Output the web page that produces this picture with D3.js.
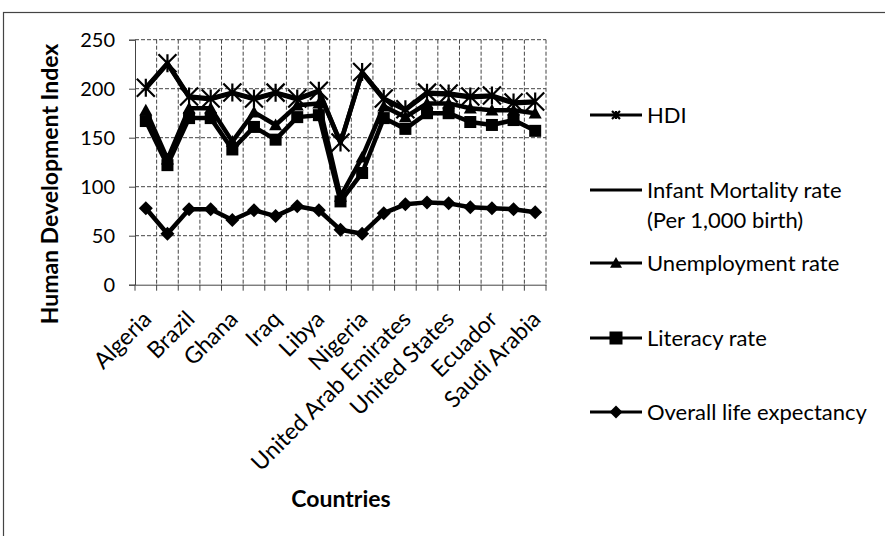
<!DOCTYPE html>
<html>
<head>
<meta charset="utf-8">
<script src="https://cdn.jsdelivr.net/npm/d3@7/dist/d3.min.js"></script>
<style>
  html, body { margin: 0; padding: 0; background: #fff; }
  svg { display: block; }
  text { font-family: Lato, "Open Sans", "Noto Sans", sans-serif; fill: #000; }
</style>
</head>
<body>
<svg id="chart" width="885" height="536"></svg>
<script>
// ---- data (stacked line chart: values per series, stacked bottom to top) ----
const countries = ["Algeria", "Angola", "Brazil", "Egypt", "Ghana", "Indonesia", "Iraq", "Kuwait",
  "Libya", "Mali", "Nigeria", "Qatar", "United Arab Emirates", "United Kingdom", "United States",
  "Venezuela", "Ecuador", "Iran", "Saudi Arabia"];
const lifeExpectancy = [78, 52, 77, 77, 66, 76, 70, 80, 76, 56, 52, 73, 82, 84, 83, 79, 78, 77, 74];
const literacyRate   = [89, 70, 93, 93, 72, 85, 78, 91, 97, 29, 62, 97, 77, 91, 92, 87, 85, 91, 83];
const unemploymentRate = [11, 6, 10, 10, 8, 15, 15, 12, 12, 5, 16, 12, 12, 10, 10, 14, 15, 10, 18];
const infantMortality = [22.3, 97.5, 11.3, 9.3, 49.5, 13.4, 32.4, 6.2, 12.2, 54.7, 86.5, 7.2, 7.2, 10.1, 9.1, 11.2, 14.3, 7.2, 11.2];
const hdiValues = [0.70, 0.50, 0.73, 0.69, 0.54, 0.62, 0.59, 0.80, 0.76, 0.35, 0.47, 0.85, 0.82, 0.89, 0.91, 0.76, 0.72, 0.77, 0.78];
const yTickValues = [0, 50, 100, 150, 200, 250];

const seriesKeys = ["life", "literacy", "unemployment", "infant", "hdi"];
const seriesNames = {
  hdi: "HDI",
  infant: ["Infant Mortality rate", "(Per 1,000 birth)"],
  unemployment: "Unemployment rate",
  literacy: "Literacy rate",
  life: "Overall life expectancy"
};
const markerOf = { hdi: "star", infant: "none", unemployment: "triangle", literacy: "square", life: "diamond" };

const table = countries.map((c, i) => ({
  country: c,
  life: lifeExpectancy[i],
  literacy: literacyRate[i],
  unemployment: unemploymentRate[i],
  infant: infantMortality[i],
  hdi: hdiValues[i]
}));

// ---- layout ----
const svg = d3.select("#chart");
const plot = { left: 135, right: 546, top: 39.7, bottom: 284.7 };

const x = d3.scaleBand().domain(countries).range([plot.left, plot.right]);
const y = d3.scaleLinear().domain([0, 250]).range([plot.bottom, plot.top]);
const cx = c => x(c) + x.bandwidth() / 2;

// outer chart border
svg.append("rect").attr("x", 3.5).attr("y", 12.5).attr("width", 1000).attr("height", 1000)
  .attr("fill", "none").attr("stroke", "#444").attr("stroke-width", 1.2);

// gridlines
const grid = svg.append("g").attr("stroke", "#444").attr("stroke-width", 1).attr("stroke-dasharray", "4,2");
grid.selectAll("line.h").data(yTickValues.filter(v => v > 0)).join("line")
  .attr("x1", plot.left).attr("x2", plot.right)
  .attr("y1", d => y(d)).attr("y2", d => y(d));
const boundaries = countries.map(c => x(c)).concat([x(countries[countries.length - 1]) + x.bandwidth()]);
grid.selectAll("line.v").data(boundaries.slice(1)).join("line")
  .attr("x1", d => d).attr("x2", d => d)
  .attr("y1", plot.top).attr("y2", plot.bottom);

// y axis
const yAxis = svg.append("g").attr("transform", `translate(${plot.left},0)`)
  .call(d3.axisLeft(y).tickValues(yTickValues).tickSize(6).tickPadding(14));
yAxis.select(".domain").attr("stroke", "#444");
yAxis.selectAll(".tick line").attr("stroke", "#444");
yAxis.selectAll(".tick text").style("font-size", "20px").attr("dy", "0.35em");

// x axis
const xAxis = svg.append("g").attr("transform", `translate(0,${plot.bottom})`)
  .call(d3.axisBottom(x).tickSize(0).tickFormat((d, i) => i % 2 === 0 ? d : ""));
xAxis.select(".domain").attr("stroke", "#444");
xAxis.selectAll(".tick text")
  .style("font-size", "23px")
  .attr("text-anchor", "end")
  .attr("dy", null).attr("y", null)
  .attr("transform", "translate(7,36) rotate(-45)");
svg.append("g").attr("stroke", "#444").selectAll("line").data(boundaries).join("line")
  .attr("x1", d => d).attr("x2", d => d)
  .attr("y1", plot.bottom).attr("y2", plot.bottom + 6);

// axis titles
svg.append("text").attr("transform", "translate(52,184) rotate(-90)")
  .attr("text-anchor", "middle").attr("dominant-baseline", "middle")
  .style("font-size", "23px").style("font-weight", "bold").text("Human Development Index");
svg.append("text").attr("x", 341).attr("y", 507).attr("text-anchor", "middle")
  .style("font-size", "23px").style("font-weight", "bold").text("Countries");

// ---- stacked lines ----
const stacked = d3.stack().keys(seriesKeys)(table);

function drawMarker(g, type, size) {
  const s = size / 2;
  if (type === "diamond") {
    g.append("path").attr("d", `M0,${-s}L${s},0L0,${s}L${-s},0Z`).attr("fill", "#000");
  } else if (type === "square") {
    g.append("rect").attr("x", -s).attr("y", -s).attr("width", size).attr("height", size).attr("fill", "#000");
  } else if (type === "triangle") {
    g.append("path").attr("d", `M0,${-s}L${s},${s * 0.8}L${-s},${s * 0.8}Z`).attr("fill", "#000");
  } else if (type === "star") {
    g.append("path").attr("d", `M${-s},${-s}L${s},${s}M${-s},${s}L${s},${-s}M0,${-s}L0,${s}`)
      .attr("stroke", "#000").attr("stroke-width", 2.2).attr("fill", "none");
  }
}
const markerSize = { diamond: 14, square: 12, triangle: 13, star: 18 };

const line = d3.line().x(d => cx(d.data.country)).y(d => y(d[1]));
stacked.forEach(layer => {
  const key = layer.key;
  svg.append("path").datum(layer).attr("d", line)
    .attr("fill", "none").attr("stroke", "#000").attr("stroke-width", 4.5)
    .attr("stroke-linejoin", "round");
  if (markerOf[key] !== "none") {
    layer.forEach(d => {
      const g = svg.append("g").attr("transform", `translate(${cx(d.data.country)},${y(d[1])})`);
      drawMarker(g, markerOf[key], markerSize[markerOf[key]]);
    });
  }
});

// ---- legend ----
const legendOrder = ["hdi", "infant", "unemployment", "literacy", "life"];
const legendY = { hdi: 115, infant: 190, unemployment: 263, literacy: 338, life: 412 };
const legendSize = { diamond: 13, square: 13, triangle: 12, star: 8 };
legendOrder.forEach(key => {
  const ly = legendY[key];
  const g = svg.append("g").attr("transform", `translate(0,${ly})`);
  g.append("line").attr("x1", 590).attr("x2", 642).attr("y1", 0).attr("y2", 0)
    .attr("stroke", "#000").attr("stroke-width", 3);
  if (markerOf[key] !== "none") {
    const m = g.append("g").attr("transform", "translate(616,0)");
    drawMarker(m, markerOf[key], legendSize[markerOf[key]]);
  }
  const name = seriesNames[key];
  const lines = Array.isArray(name) ? name : [name];
  const t = g.append("text").attr("x", 647).attr("y", 0).style("font-size", "22px");
  lines.forEach((l, i) => {
    t.append("tspan").attr("x", 647).attr("dy", i === 0 ? "0.35em" : "1.36em").text(l);
  });
});
</script>
</body>
</html>
